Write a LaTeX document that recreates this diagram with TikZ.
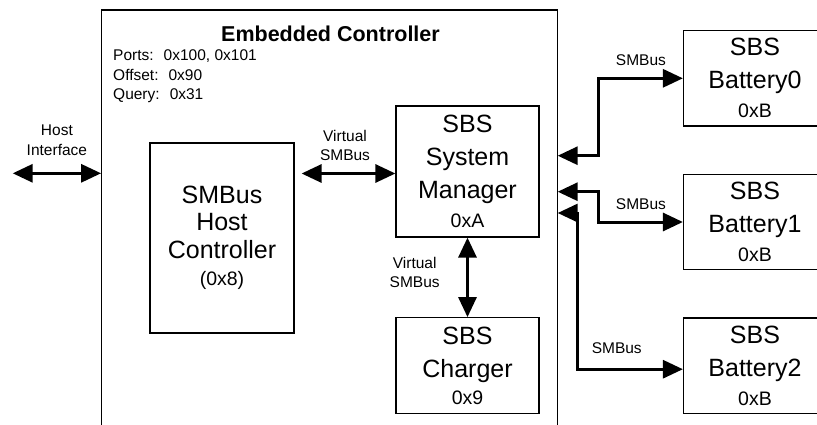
\documentclass[tikz,border=0pt]{standalone}
\usepackage{fontspec}
\setmainfont{Liberation Sans}
\usepackage{tikz}
\usetikzlibrary{arrows.meta, positioning}
\newcommand{\hexaddr}[1]{{\fontsize{19.5}{22}\selectfont #1}}

\begin{document}
\begin{tikzpicture}[
  x=1pt, y=-1pt,
  box/.style={rectangle, draw, line width=1.2pt, inner sep=0pt, align=center,
              minimum width=143pt, minimum height=95.5pt,
              font=\fontsize{25}{33}\selectfont},
  buslabel/.style={font=\fontsize{15.5}{19.5}\selectfont, align=center},
  bus/.style={{Triangle[length=20pt,width=18pt]}-{Triangle[length=20pt,width=18pt]},
              line width=3pt}
]
  \useasboundingbox (0,0) rectangle (817,424);
  \clip (0,0) rectangle (817,424);

  % embedded controller
  \node[draw, line width=1.2pt, inner sep=0pt, minimum width=456pt,
        minimum height=440pt] (ec) at (329.7,230) {};
  \node[font=\bfseries\fontsize{21.5}{24}\selectfont, anchor=base] (ectitle)
    at (330.5,41.7) {Embedded Controller};
  \node[buslabel, align=left, anchor=north west, inner sep=0pt] (ecinfo)
    at (113,49.6) {Ports: \ 0x100, 0x101\\Offset: \ 0x90\\Query: \ 0x31};

  \node[box, minimum width=144pt, minimum height=190pt,
        font=\fontsize{25}{27.5}\selectfont] (hostc) at (222,238)
    {SMBus\\Host\\Controller\\\hexaddr{(0x8)}};
  \node[box, minimum height=131pt] (mgr) at (467.5,171.5)
    {SBS\\System\\Manager\\[-4pt]\hexaddr{0xA}};
  \node[box, below=79.5pt of mgr] (chg) {SBS\\Charger\\[-6pt]\hexaddr{0x9}};

  % batteries
  \node[box] (bat0) at (755,78.3) {SBS\\Battery0\\[-4pt]\hexaddr{0xB}};
  \node[box, below=47pt of bat0] (bat1) {SBS\\Battery1\\[-4pt]\hexaddr{0xB}};
  \node[box, below=47pt of bat1] (bat2) {SBS\\Battery2\\[-4pt]\hexaddr{0xB}};

  % host side
  \coordinate (hiend) at (12.7,173.3);
  \draw[bus] (hiend) -- node[buslabel, above=13pt] (hilabel) {Host\\Interface}
    (hiend -| ec.west);
  \draw[bus, shorten >=7pt] ([yshift=-2pt]mgr.west)
    -- node[buslabel, above=8pt] (vslabel) {Virtual\\SMBus}
    ([yshift=-2pt]mgr.west -| hostc.east);
  \draw[bus] (mgr.south)
    -- node[buslabel, left=23pt, pos=0.44] (vclabel) {Virtual\\SMBus} (chg.north);

  % battery buses
  \coordinate (in0) at (557.7,155.7);
  \coordinate (in1) at (557.7,191.7);
  \coordinate (in2) at (557.7,213);
  \draw[bus] (in0) -| ([xshift=-84pt]bat0.west)
    -- node[buslabel, above=8pt] (sm0) {SMBus} (bat0.west);
  \draw[bus] (in1) -| ([xshift=-84pt]bat1.west)
    -- node[buslabel, above=8pt] (sm1) {SMBus} (bat1.west);
  \draw[bus] (in2) -| ([xshift=-105pt, yshift=-3.5pt]bat2.west)
    -- node[buslabel, above=10.5pt, pos=0.37] (sm2) {SMBus} ([yshift=-3.5pt]bat2.west);
\end{tikzpicture}
\end{document}
